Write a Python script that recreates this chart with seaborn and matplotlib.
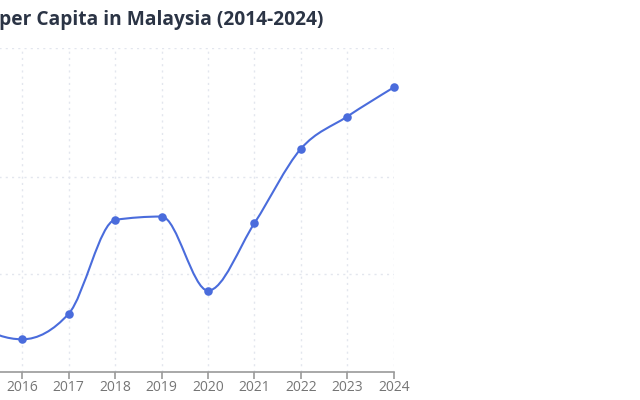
import numpy as np
import pandas as pd
import seaborn as sns
import matplotlib.pyplot as plt
from matplotlib.path import Path
from matplotlib.patches import PathPatch

# data (2014/2015 sit left of the visible area)
years = [2014, 2015, 2016, 2017, 2018, 2019, 2020, 2021, 2022, 2023, 2024]
gdp_per_capita = [10300, 9500, 9335, 9598, 10559, 10593, 9834, 10525, 11287, 11618, 11916]
y_grid = [9000, 10000, 11000, 12320]

LINE_COLOR = "#4a6cdc"
AXIS_COLOR = "#9a9a9a"
LABEL_COLOR = "#757575"
GRID_COLOR = "#e3e6ee"


def monotone_path(xs, ys):
    # monotone-x cubic bezier through the points (same idea as d3 curveMonotoneX)
    xs = np.asarray(xs, dtype=float)
    ys = np.asarray(ys, dtype=float)
    h = np.diff(xs)
    s = np.diff(ys) / h
    t = np.zeros(len(xs))
    for i in range(1, len(xs) - 1):
        p = (s[i - 1] * h[i] + s[i] * h[i - 1]) / (h[i - 1] + h[i])
        t[i] = (np.sign(s[i - 1]) + np.sign(s[i])) * min(abs(s[i - 1]), abs(s[i]), 0.5 * abs(p))
    t[0] = (3 * s[0] - t[1]) / 2
    t[-1] = (3 * s[-1] - t[-2]) / 2
    verts = [(xs[0], ys[0])]
    codes = [Path.MOVETO]
    for i in range(len(xs) - 1):
        dx = h[i] / 3
        verts += [(xs[i] + dx, ys[i] + dx * t[i]),
                  (xs[i + 1] - dx, ys[i + 1] - dx * t[i + 1]),
                  (xs[i + 1], ys[i + 1])]
        codes += [Path.CURVE4] * 3
    return Path(verts, codes)


def main():
    sns.set_theme(style="white")
    plt.rcParams["font.family"] = ["Open Sans", "DejaVu Sans"]

    df = pd.DataFrame({"year": years, "gdp": gdp_per_capita})

    fig = plt.figure(figsize=(6.4, 4), dpi=100)
    # plot area runs off the left edge of the picture
    ax = fig.add_axes([-70.5 / 640, 1 - 372 / 400, (393.7 + 70.5) / 640, 324 / 400])
    ax.set_xlim(years[0], years[-1])
    ax.set_ylim(y_grid[0], y_grid[-1])

    ax.add_patch(PathPatch(monotone_path(df["year"], df["gdp"]),
                           facecolor="none", edgecolor=LINE_COLOR, lw=1.5,
                           zorder=3, clip_on=False))
    sns.scatterplot(data=df, x="year", y="gdp", ax=ax, color=LINE_COLOR,
                    s=38, edgecolor=LINE_COLOR, linewidth=0, zorder=4, clip_on=False)

    ax.set_xticks(years)
    ax.set_xticklabels([str(y) for y in years])
    ax.set_yticks(y_grid)
    ax.grid(True, linestyle=(0, (1.5, 3)), color=GRID_COLOR, lw=1)
    ax.set_axisbelow(True)

    for side in ["top", "right", "left"]:
        ax.spines[side].set_visible(False)
    ax.spines["bottom"].set_color(AXIS_COLOR)
    ax.spines["bottom"].set_linewidth(1.2)
    ax.tick_params(axis="x", bottom=True, length=5, width=1.2, color=AXIS_COLOR,
                   labelcolor=LABEL_COLOR, labelsize=10, pad=1)
    ax.tick_params(axis="y", left=False, labelleft=False)
    ax.set_xlabel("")
    ax.set_ylabel("")

    fig.text(323 / 640, 1 - 25 / 400, "GDP per Capita in Malaysia (2014-2024)",
             ha="right", va="baseline", fontsize=13.8, fontweight="bold",
             color="#2b3445")

    fig.savefig("out.png", dpi=100)


if __name__ == "__main__":
    main()
